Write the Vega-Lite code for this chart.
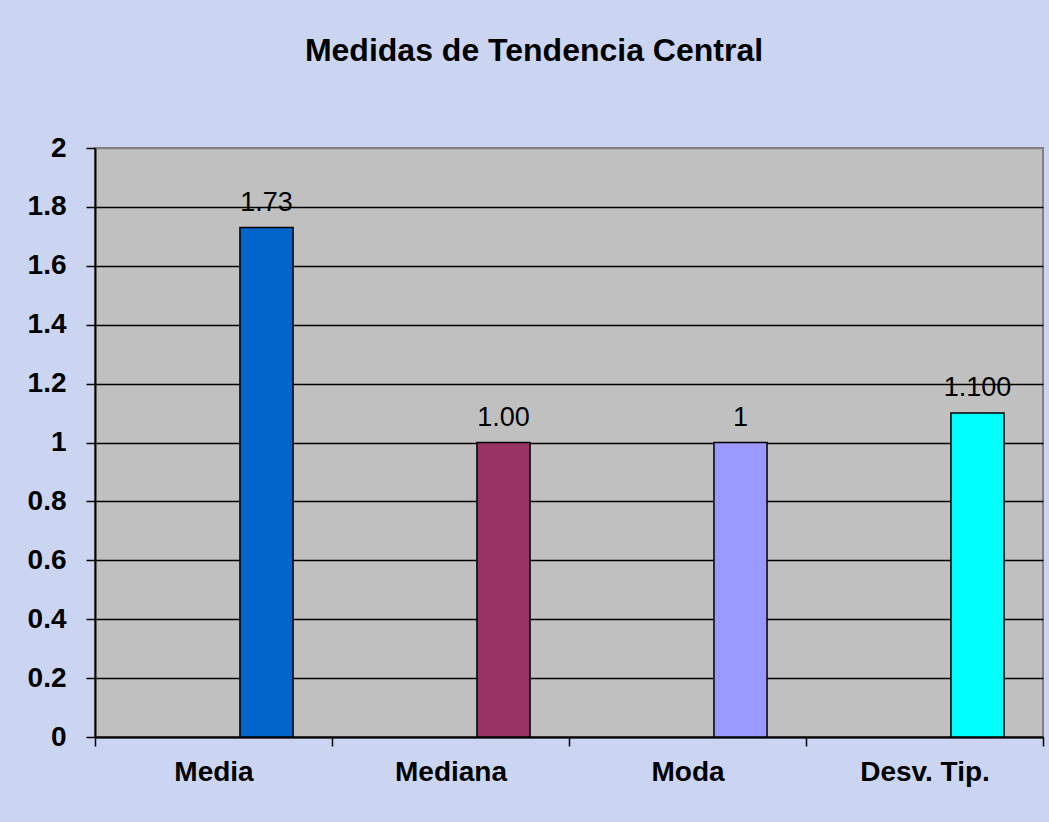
{
  "$schema": "https://vega.github.io/schema/vega-lite/v6.json",
  "width": 948,
  "height": 589,
  "autosize": "none",
  "padding": {"left": 95, "top": 148, "right": 6, "bottom": 85},
  "background": "#CBD5F1",
  "title": {
    "text": "Medidas de Tendencia Central",
    "font": "Liberation Sans",
    "fontSize": 32,
    "fontWeight": "bold",
    "color": "black",
    "anchor": "middle",
    "dx": -35,
    "offset": 41,
    "baseline": "alphabetic"
  },
  "data": {
    "values": [
      {"medida": "Media", "valor": 1.73, "etiqueta": "1.73"},
      {"medida": "Mediana", "valor": 1.0, "etiqueta": "1.00"},
      {"medida": "Moda", "valor": 1.0, "etiqueta": "1"},
      {"medida": "Desv. Tip.", "valor": 1.1, "etiqueta": "1.100"}
    ]
  },
  "encoding": {
    "x": {
      "field": "medida",
      "type": "nominal",
      "sort": null,
      "scale": {"paddingInner": 0, "paddingOuter": 0},
      "axis": {
        "title": null,
        "labelAngle": 0,
        "tickBand": "extent",
        "labelFont": "Liberation Sans",
        "labelFontSize": 28,
        "labelFontWeight": "bold",
        "labelColor": "black",
        "labelPadding": 12,
        "tickColor": "black",
        "tickSize": 9,
        "tickWidth": 1.5,
        "domainColor": "black",
        "domainWidth": 2
      }
    },
    "y": {
      "field": "valor",
      "type": "quantitative",
      "scale": {"domain": [0, 2], "nice": false},
      "axis": {
        "title": null,
        "values": [0, 0.2, 0.4, 0.6, 0.8, 1, 1.2, 1.4, 1.6, 1.8, 2],
        "format": "~g",
        "labelFont": "Liberation Sans",
        "labelFontSize": 28,
        "labelFontWeight": "bold",
        "labelColor": "black",
        "labelPadding": 20,
        "tickColor": "black",
        "tickSize": 9,
        "tickWidth": 1.5,
        "domainColor": "black",
        "domainWidth": 2,
        "grid": true,
        "gridColor": {"condition": {"test": "datum.value == 2", "value": "#808080"}, "value": "black"},
        "gridWidth": 1.5,
        "gridOpacity": 1
      }
    }
  },
  "layer": [
    {
      "mark": {
        "type": "bar",
        "width": {"band": 0.224},
        "xOffset": 53,
        "stroke": "black",
        "strokeWidth": 1.5
      },
      "encoding": {
        "color": {
          "field": "medida",
          "type": "nominal",
          "sort": null,
          "scale": {
            "domain": ["Media", "Mediana", "Moda", "Desv. Tip."],
            "range": ["#0066CC", "#993366", "#9999FF", "#00FFFF"]
          },
          "legend": null
        }
      }
    },
    {
      "mark": {
        "type": "text",
        "xOffset": 53,
        "dy": -17,
        "baseline": "alphabetic",
        "font": "Liberation Sans",
        "fontSize": 27,
        "color": "black"
      },
      "encoding": {
        "text": {"field": "etiqueta", "type": "nominal"}
      }
    }
  ],
  "config": {
    "view": {"fill": "#C0C0C0", "stroke": "#808080", "strokeWidth": 2}
  }
}
